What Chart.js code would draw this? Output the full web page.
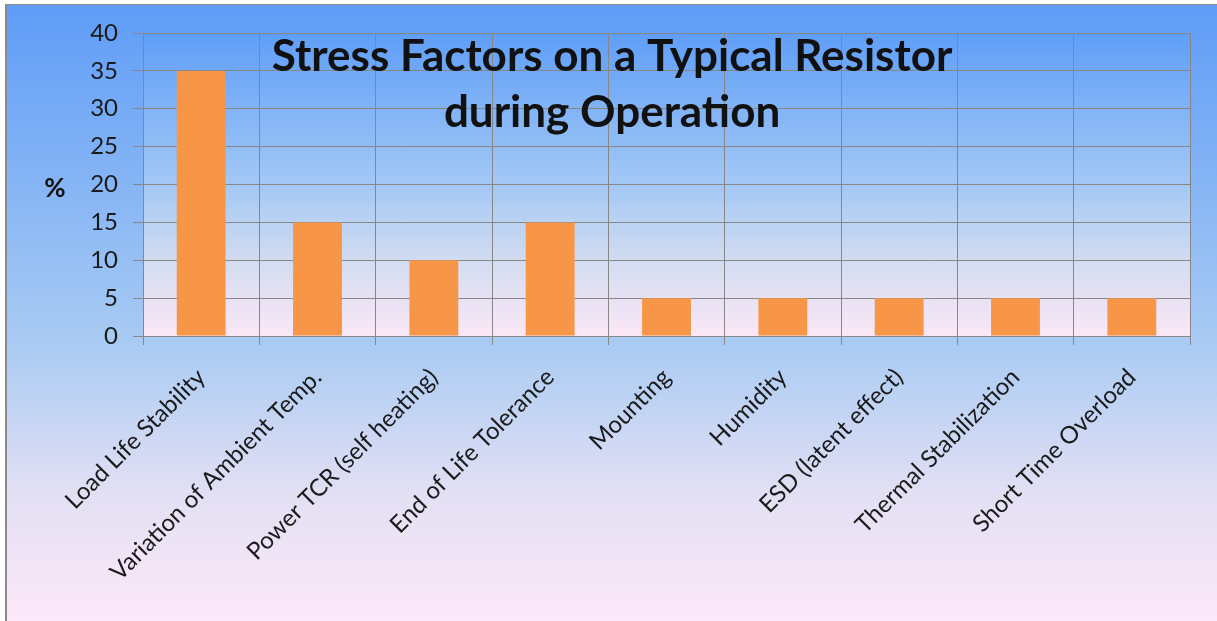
<!DOCTYPE html>
<html>
<head>
<meta charset="utf-8">
<script src="https://cdn.jsdelivr.net/npm/chart.js@4"></script>
<style>
  html, body { margin: 0; padding: 0; background: #fff; }
  #wrap { width: 1217px; height: 621px; }
</style>
</head>
<body>
<div id="wrap"><canvas id="stressChart" width="1217" height="621"></canvas></div>
<script>
// data
const factors = ['Load Life Stability', 'Variation of Ambient Temp.', 'Power TCR (self heating)',
    'End of Life Tolerance', 'Mounting', 'Humidity', 'ESD (latent effect)',
    'Thermal Stabilization', 'Short Time Overload'];
const percent = [35, 15, 10, 15, 5, 5, 5, 5, 5];
const titleLines = ['Stress Factors on a Typical Resistor', 'during Operation'];
const yLabel = '%';

const FONT = 'Lato, "Open Sans", sans-serif';

// backgrounds, title and the "%" label
const slidePlugin = {
    id: 'slide',
    beforeDraw(chart) {
        const c = chart.ctx, w = chart.width, h = chart.height, a = chart.chartArea;
        c.save();
        c.fillStyle = '#ffffff';
        c.fillRect(0, 0, w, h);
        let g = c.createLinearGradient(0, 5, 0, h);
        g.addColorStop(0, '#5f9cf7');
        g.addColorStop(0.55, '#a9cbf3');
        g.addColorStop(0.8, '#e4e0f4');
        g.addColorStop(1, '#fce8f8');
        c.fillStyle = g;
        c.fillRect(7, 5, w - 7, h - 5);
        c.fillStyle = '#8a8a8a';
        c.fillRect(5, 4, 2, h - 4);
        c.fillRect(5, 4, w - 5, 1);
        // plot area
        g = c.createLinearGradient(0, a.top, 0, a.bottom);
        g.addColorStop(0, '#5f9ef8');
        g.addColorStop(0.5, '#a3c8f5');
        g.addColorStop(0.75, '#d2dcf1');
        g.addColorStop(1, '#fbe7f6');
        c.fillStyle = g;
        c.fillRect(a.left, a.top, a.right - a.left, a.bottom - a.top);
        c.restore();
    },
    afterDraw(chart) {
        const c = chart.ctx, a = chart.chartArea;
        c.save();
        c.fillStyle = '#111';
        c.textAlign = 'center';
        c.textBaseline = 'alphabetic';
        c.font = 'bold 44px ' + FONT;
        const cx = a.left + (a.right - a.left) * 0.448;
        c.fillText(titleLines[0], cx, 71);
        c.fillText(titleLines[1], cx, 127);
        c.font = 'bold 26px ' + FONT;
        c.textBaseline = 'middle';
        c.fillText(yLabel, 55, 189);
        c.restore();
    }
};

const ctx = document.getElementById('stressChart').getContext('2d');
new Chart(ctx, {
    type: 'bar',
    data: {
        labels: factors,
        datasets: [{
            data: percent,
            backgroundColor: '#f79646',
            borderWidth: 0,
            barPercentage: 0.84,
            categoryPercentage: 0.5
        }]
    },
    options: {
        responsive: false,
        animation: false,
        devicePixelRatio: 1,
        layout: { padding: { top: 33, right: 27, left: 0, bottom: 0 } },
        plugins: {
            legend: { display: false },
            tooltip: { enabled: false }
        },
        scales: {
            x: {
                afterFit(scale) { scale.height = 285; },
                grid: { color: '#878787', lineWidth: 1, tickLength: 9, drawTicks: true },
                border: { color: '#878787' },
                ticks: {
                    minRotation: 45, maxRotation: 45, autoSkip: false,
                    padding: 18,
                    color: '#1a1a1a',
                    font: { family: FONT, size: 24 }
                }
            },
            y: {
                min: 0, max: 40,
                afterFit(scale) { scale.width = 143; },
                grid: { color: '#878787', lineWidth: 1, tickLength: 10 },
                border: { color: '#878787' },
                ticks: {
                    stepSize: 5,
                    padding: 15,
                    color: '#1a1a1a',
                    font: { family: FONT, size: 24 }
                }
            }
        }
    },
    plugins: [slidePlugin]
});
</script>
</body>
</html>
